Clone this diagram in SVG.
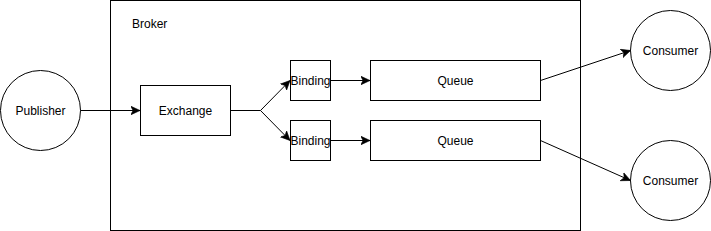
<svg xmlns="http://www.w3.org/2000/svg" width="711" height="231" viewBox="0 0 711 231">
<defs>
<style>
.box{fill:#fff;stroke:#000;stroke-width:1}
.edge{fill:none;stroke:#000;stroke-width:1}
text{font-family:"Liberation Sans",Arial,sans-serif;font-size:12px;fill:#000}
.c{text-anchor:middle}
</style>
<marker id="arr" markerUnits="userSpaceOnUse" markerWidth="10" markerHeight="10" viewBox="0 0 8 8" refX="7.5" refY="4" orient="auto">
<path d="M0,0.5 L7.5,4 L0,7.5 L2,4 z" fill="#000" stroke="#000" stroke-width="0.5"/>
</marker>
</defs>
<g id="broker">
<rect class="box" x="110.5" y="0.5" width="470" height="230"/>
<text x="132" y="28">Broker</text>
</g>
<g id="publisher">
<circle class="box" cx="40.5" cy="110.5" r="40"/>
<text class="c" x="40.5" y="114.5">Publisher</text>
</g>
<g id="exchange">
<rect class="box" x="140.5" y="85.5" width="90" height="50"/>
<text class="c" x="185.5" y="114.5">Exchange</text>
</g>
<g id="binding1">
<rect class="box" x="290.5" y="60.5" width="40" height="40"/>
<text class="c" x="310.5" y="84.5">Binding</text>
</g>
<g id="binding2">
<rect class="box" x="290.5" y="120.5" width="40" height="40"/>
<text class="c" x="310.5" y="144.5">Binding</text>
</g>
<g id="queue1">
<rect class="box" x="370.5" y="60.5" width="170" height="40"/>
<text class="c" x="455.5" y="84.5">Queue</text>
</g>
<g id="queue2">
<rect class="box" x="370.5" y="120.5" width="170" height="40"/>
<text class="c" x="455.5" y="144.5">Queue</text>
</g>
<g id="consumer1">
<circle class="box" cx="670.5" cy="50.5" r="40"/>
<text class="c" x="670.5" y="54.5">Consumer</text>
</g>
<g id="consumer2">
<circle class="box" cx="670.5" cy="180.5" r="40"/>
<text class="c" x="670.5" y="184.5">Consumer</text>
</g>
<g id="connectors">
<path class="edge" d="M80.5,110.5 L140,110.5" marker-end="url(#arr)"/>
<path class="edge" d="M230.5,110.5 L260.5,110.5 L290,80.5" marker-end="url(#arr)"/>
<path class="edge" d="M260.5,110.5 L290,140.5" marker-end="url(#arr)"/>
<path class="edge" d="M330.5,80.5 L370,80.5" marker-end="url(#arr)"/>
<path class="edge" d="M330.5,140.5 L370,140.5" marker-end="url(#arr)"/>
<path class="edge" d="M540.5,80.5 L630.5,50.5" marker-end="url(#arr)"/>
<path class="edge" d="M540.5,140.5 L630.5,180.5" marker-end="url(#arr)"/>
</g>
</svg>
